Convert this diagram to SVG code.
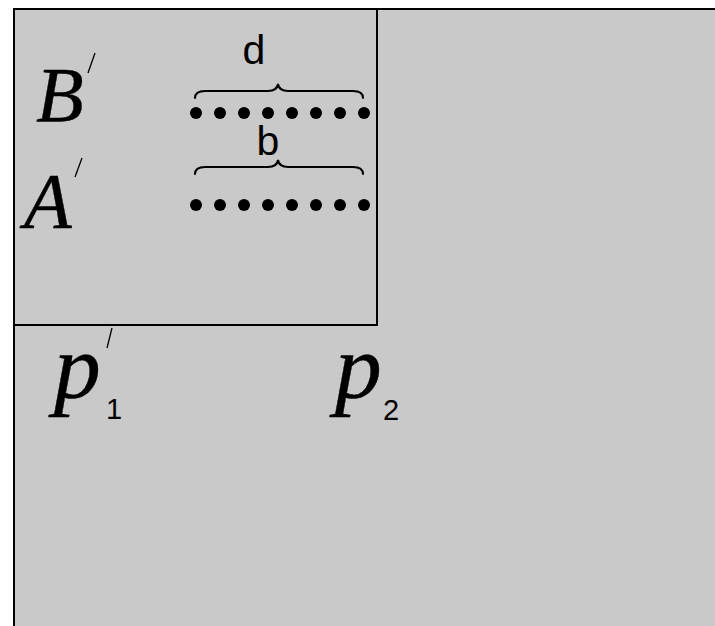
<svg xmlns="http://www.w3.org/2000/svg" width="715" height="626" viewBox="0 0 715 626">
  <defs>
    <style>
      .frame { fill: none; stroke: #000; stroke-width: 2; }
      .ital { font-family: "Liberation Serif", "Times New Roman", serif; font-style: italic; fill: #000; stroke: #000; stroke-width: 0.4; }
      .sans { font-family: "Liberation Sans", Arial, sans-serif; fill: #000; }
      .prime { stroke: #000; stroke-width: 1.3; fill: none; }
      .brace { fill: none; stroke: #000; stroke-width: 2; stroke-linecap: round; }
      .dot { fill: #000; }
    </style>
  </defs>
  <rect x="0" y="0" width="715" height="626" fill="#ffffff"/>
  <rect x="14" y="9" width="701" height="617" fill="#c9c9c9"/>
  <g id="frame">
    <line class="frame" x1="14" y1="9" x2="715" y2="9"/>
    <line class="frame" x1="14" y1="9" x2="14" y2="626"/>
    <rect class="frame" x="14" y="9" width="363" height="316"/>
  </g>
  <g id="label-B">
    <text class="ital" x="36" y="121" font-size="78">B</text>
    <line class="prime" x1="95" y1="53" x2="88" y2="73"/>
  </g>
  <g id="label-A">
    <text class="ital" x="24" y="227" font-size="78">A</text>
    <line class="prime" x1="82" y1="158" x2="75" y2="177"/>
  </g>
  <g id="label-d">
    <text class="sans" x="254" y="64" font-size="41" text-anchor="middle">d</text>
  </g>
  <g id="brace-d">
    <path class="brace" d="M195,98 Q195,91 205,91 L268,91 Q277,91 278,84 Q279,91 288,91 L353,91 Q363,91 363,98"/>
  </g>
  <g id="row-B">
    <circle class="dot" cx="196" cy="113" r="6"/>
    <circle class="dot" cx="220" cy="113" r="6"/>
    <circle class="dot" cx="244" cy="113" r="6"/>
    <circle class="dot" cx="268" cy="113" r="6"/>
    <circle class="dot" cx="292" cy="113" r="6"/>
    <circle class="dot" cx="316" cy="113" r="6"/>
    <circle class="dot" cx="340" cy="113" r="6"/>
    <circle class="dot" cx="364" cy="113" r="6"/>
  </g>
  <g id="label-b">
    <text class="sans" x="268" y="155" font-size="41" text-anchor="middle">b</text>
  </g>
  <g id="brace-b">
    <path class="brace" d="M195,174 Q195,167 205,167 L268,167 Q277,167 278,160 Q279,167 288,167 L353,167 Q363,167 363,174"/>
  </g>
  <g id="row-A">
    <circle class="dot" cx="196" cy="205" r="6"/>
    <circle class="dot" cx="220" cy="205" r="6"/>
    <circle class="dot" cx="244" cy="205" r="6"/>
    <circle class="dot" cx="268" cy="205" r="6"/>
    <circle class="dot" cx="292" cy="205" r="6"/>
    <circle class="dot" cx="316" cy="205" r="6"/>
    <circle class="dot" cx="340" cy="205" r="6"/>
    <circle class="dot" cx="364" cy="205" r="6"/>
  </g>
  <g id="label-p1">
    <text class="ital" x="0" y="398" font-size="90" transform="translate(54,0) scale(1.04,1)">p</text>
    <text class="sans" x="106" y="419" font-size="29">1</text>
    <line class="prime" x1="112" y1="328" x2="107" y2="348"/>
  </g>
  <g id="label-p2">
    <text class="ital" x="0" y="398" font-size="90" transform="translate(335,0) scale(1.04,1)">p</text>
    <text class="sans" x="383" y="420" font-size="29">2</text>
  </g>
</svg>
